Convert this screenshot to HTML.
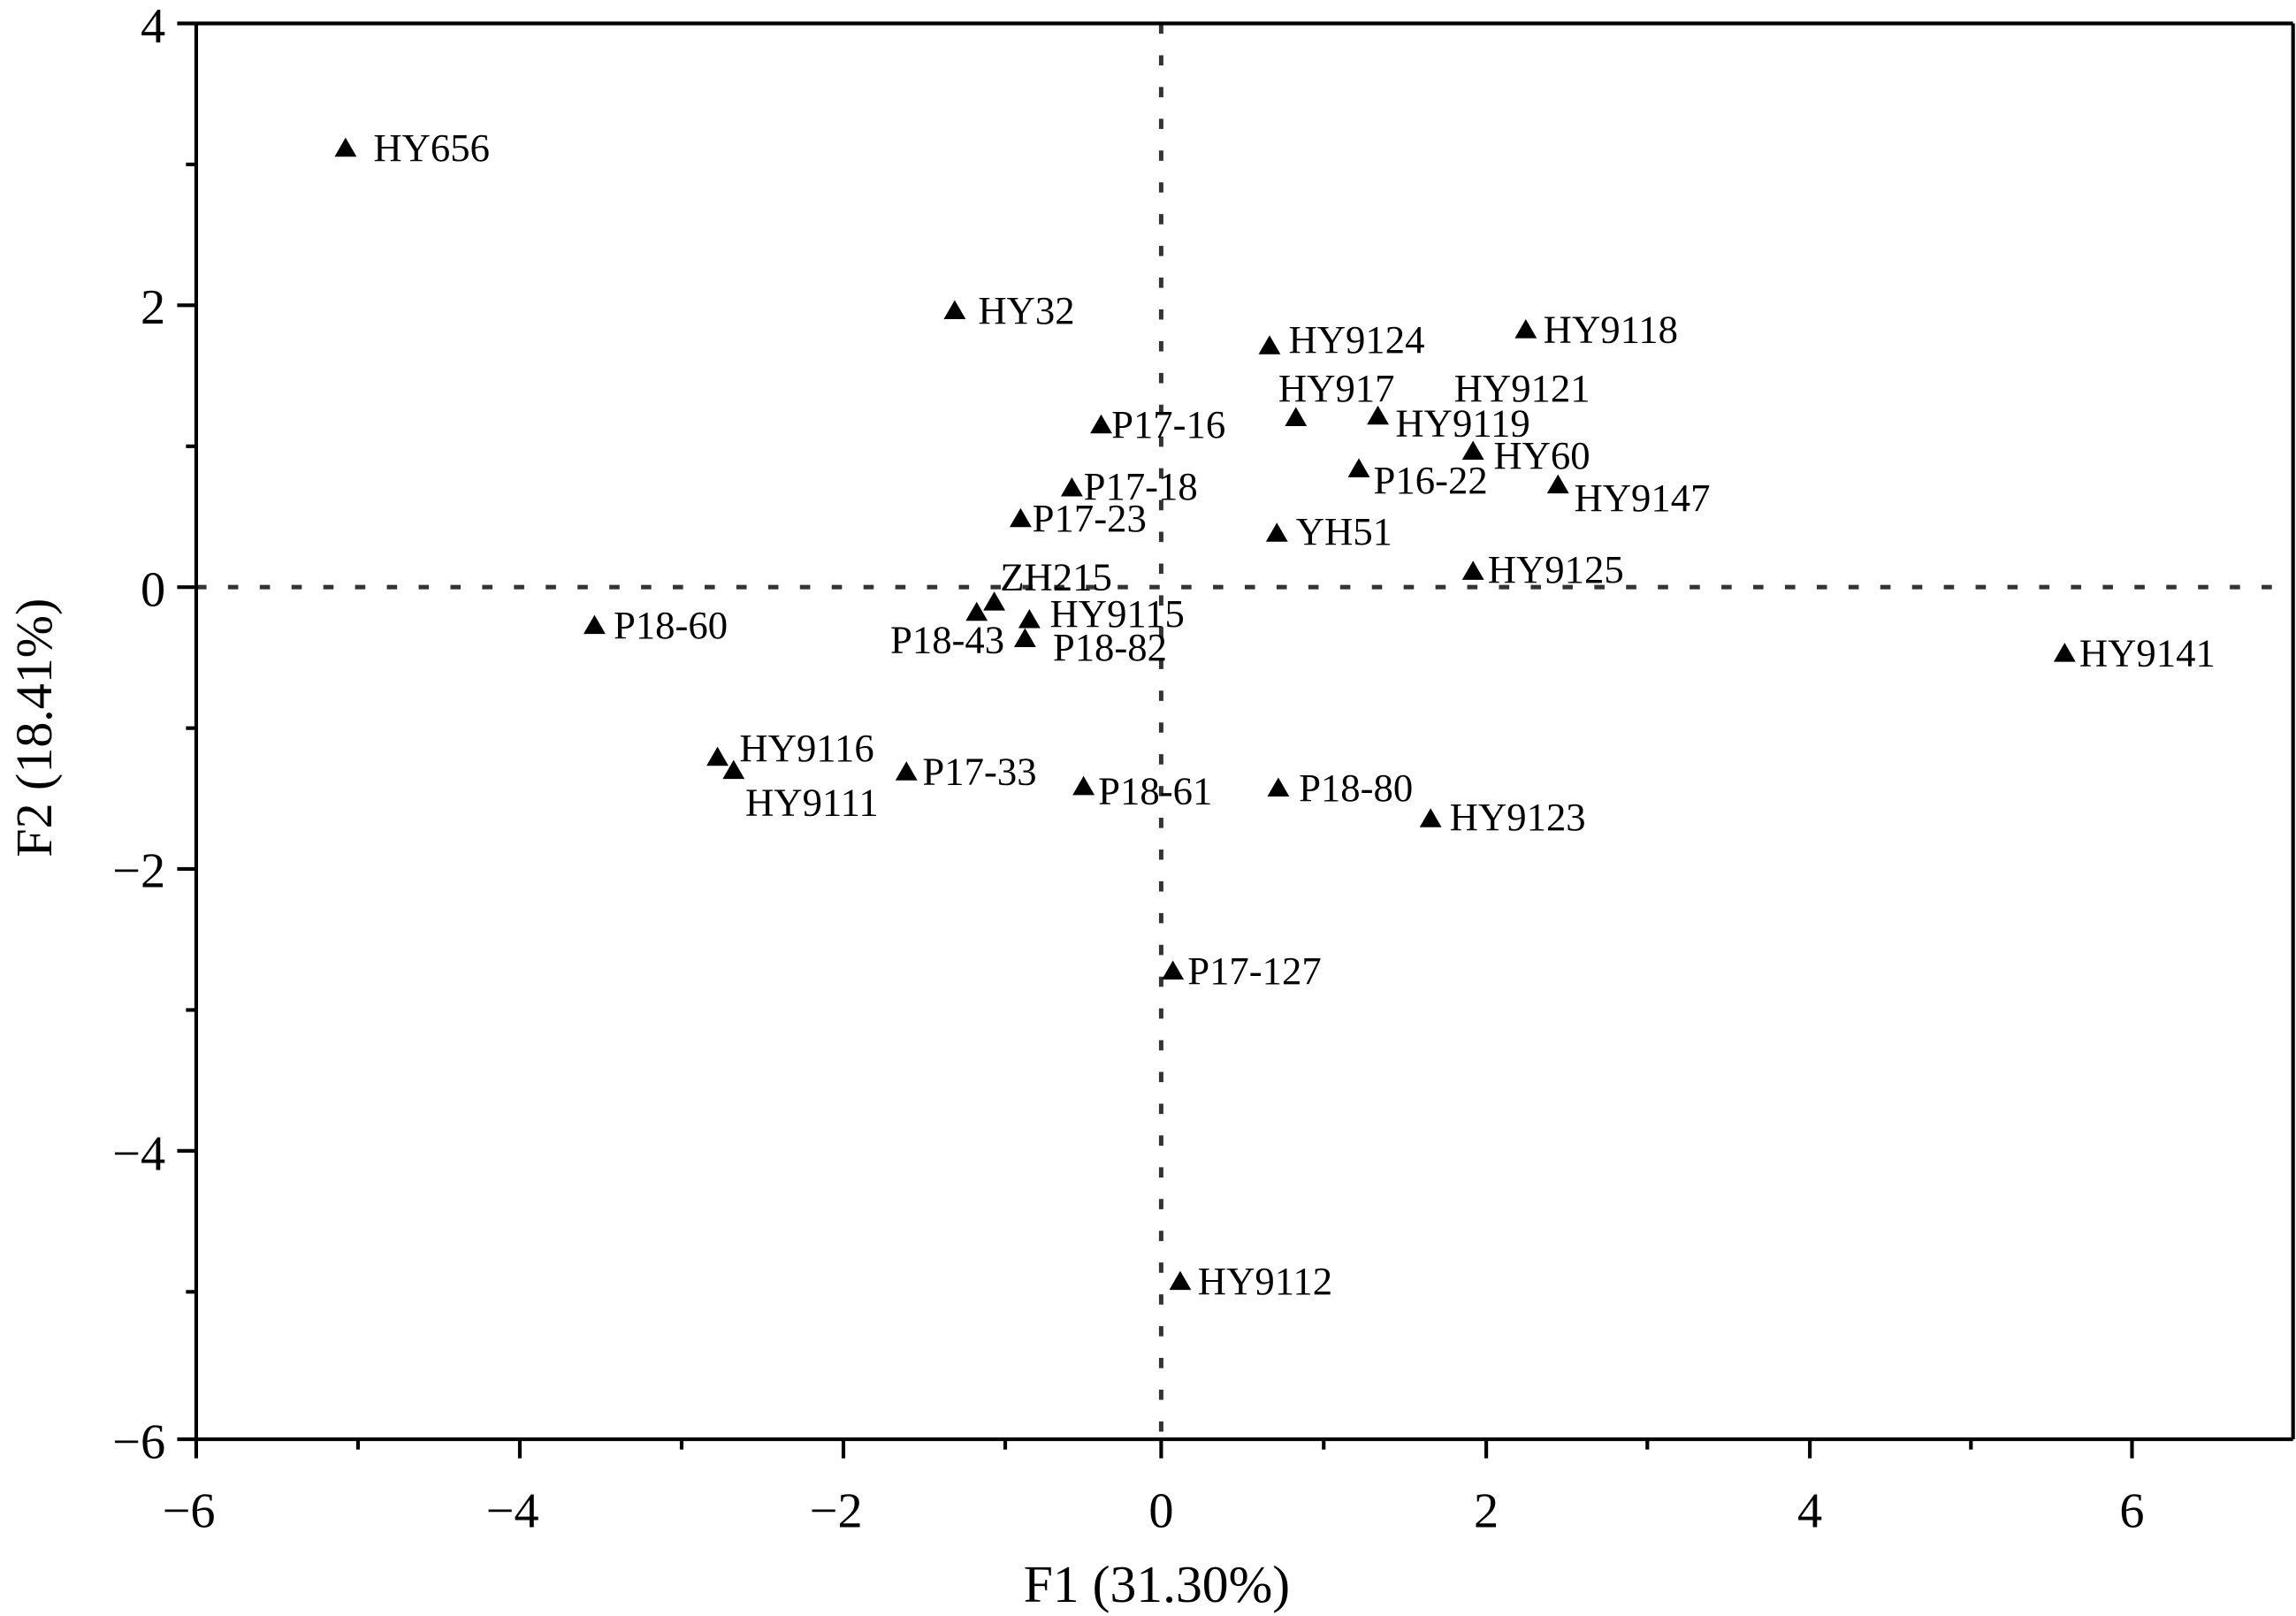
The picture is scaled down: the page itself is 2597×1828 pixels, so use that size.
<!DOCTYPE html>
<html><head><meta charset="utf-8"><style>
html,body{margin:0;padding:0;background:#fff;}
svg{display:block;}
text{font-family:"Liberation Serif",serif;fill:#000;}
</style></head><body>
<svg width="2597" height="1828" viewBox="0 0 1568 1103.7" preserveAspectRatio="none" xmlns="http://www.w3.org/2000/svg">
<defs><path id="t" d="M0,-7 L7.5,6 L-7.5,6 Z" fill="#000"/></defs>
<line x1="134" y1="401" x2="1566" y2="401" stroke="#333" stroke-width="3" stroke-dasharray="7,14.7"/>
<line x1="793" y1="16" x2="793" y2="983" stroke="#333" stroke-width="3" stroke-dasharray="7,14.7"/>
<g stroke="#000" stroke-width="2.5" fill="none">
<line x1="134" y1="16" x2="1566" y2="16"/>
<line x1="1566" y1="16" x2="1566" y2="983"/>
<line x1="134" y1="16" x2="134" y2="983"/>
<line x1="121" y1="983" x2="1566" y2="983"/>
<line x1="121" y1="16" x2="134" y2="16"/>
<line x1="127" y1="112.3" x2="134" y2="112.3"/>
<line x1="121" y1="208.5" x2="134" y2="208.5"/>
<line x1="127" y1="304.8" x2="134" y2="304.8"/>
<line x1="121" y1="401" x2="134" y2="401"/>
<line x1="127" y1="497.3" x2="134" y2="497.3"/>
<line x1="121" y1="593.5" x2="134" y2="593.5"/>
<line x1="127" y1="689.8" x2="134" y2="689.8"/>
<line x1="121" y1="786" x2="134" y2="786"/>
<line x1="127" y1="882.3" x2="134" y2="882.3"/>
<line x1="134" y1="983" x2="134" y2="996"/>
<line x1="244.5" y1="983" x2="244.5" y2="990"/>
<line x1="355" y1="983" x2="355" y2="996"/>
<line x1="465.5" y1="983" x2="465.5" y2="990"/>
<line x1="576" y1="983" x2="576" y2="996"/>
<line x1="686.5" y1="983" x2="686.5" y2="990"/>
<line x1="793" y1="983" x2="793" y2="996"/>
<line x1="904" y1="983" x2="904" y2="990"/>
<line x1="1015" y1="983" x2="1015" y2="996"/>
<line x1="1125" y1="983" x2="1125" y2="990"/>
<line x1="1236" y1="983" x2="1236" y2="996"/>
<line x1="1346" y1="983" x2="1346" y2="990"/>
<line x1="1456" y1="983" x2="1456" y2="996"/>
</g>
<g font-size="34" text-anchor="end">
<text x="113" y="29">4</text>
<text x="113" y="221">2</text>
<text x="113" y="414">0</text>
<text x="113" y="606">−2</text>
<text x="113" y="799">−4</text>
<text x="113" y="996">−6</text>
</g>
<g font-size="34" text-anchor="middle">
<text x="129" y="1043">−6</text>
<text x="350" y="1043">−4</text>
<text x="571" y="1043">−2</text>
<text x="793" y="1043">0</text>
<text x="1015" y="1043">2</text>
<text x="1236" y="1043">4</text>
<text x="1456" y="1043">6</text>
</g>
<text x="790" y="1094" font-size="36" text-anchor="middle">F1 (31.30%)</text>
<text transform="translate(35,497) rotate(-90)" font-size="35" text-anchor="middle">F2 (18.41%)</text>
<g>
<use href="#t" x="236" y="101"/><use href="#t" x="652" y="212"/><use href="#t" x="867" y="236"/>
<use href="#t" x="1042" y="225"/><use href="#t" x="885" y="285"/><use href="#t" x="941" y="284"/>
<use href="#t" x="752" y="290"/><use href="#t" x="1006" y="308"/><use href="#t" x="928" y="320"/>
<use href="#t" x="1064" y="331"/><use href="#t" x="732" y="333"/><use href="#t" x="697" y="354"/>
<use href="#t" x="872" y="364"/><use href="#t" x="1006" y="390"/><use href="#t" x="679" y="411"/>
<use href="#t" x="667" y="418"/><use href="#t" x="703" y="423"/><use href="#t" x="700" y="436"/>
<use href="#t" x="406" y="427"/><use href="#t" x="1410" y="446"/><use href="#t" x="490" y="517"/>
<use href="#t" x="501" y="526"/><use href="#t" x="619" y="527"/><use href="#t" x="740" y="537"/>
<use href="#t" x="873" y="538"/><use href="#t" x="977" y="559"/><use href="#t" x="801" y="663"/>
<use href="#t" x="806" y="875"/>
</g>
<g font-size="27">
<text x="255" y="110">HY656</text>
<text x="668" y="221">HY32</text>
<text x="880" y="241">HY9124</text>
<text x="1054" y="234">HY9118</text>
<text x="873" y="274">HY917</text>
<text x="993" y="274">HY9121</text>
<text x="953" y="298">HY9119</text>
<text x="759" y="299">P17-16</text>
<text x="1020" y="320">HY60</text>
<text x="938" y="337">P16-22</text>
<text x="1075" y="349">HY9147</text>
<text x="740" y="341">P17-18</text>
<text x="705" y="363">P17-23</text>
<text x="885" y="372">YH51</text>
<text x="1016" y="398">HY9125</text>
<text x="683" y="403">ZH215</text>
<text x="608" y="446">P18-43</text>
<text x="717" y="428">HY9115</text>
<text x="719" y="451">P18-82</text>
<text x="419" y="436">P18-60</text>
<text x="1420" y="455">HY9141</text>
<text x="505" y="520">HY9116</text>
<text x="509" y="557">HY9111</text>
<text x="630" y="536">P17-33</text>
<text x="750" y="549">P18-61</text>
<text x="887" y="547">P18-80</text>
<text x="990" y="567">HY9123</text>
<text x="811" y="672">P17-127</text>
<text x="818" y="884">HY9112</text>
</g>
</svg>
</body></html>
